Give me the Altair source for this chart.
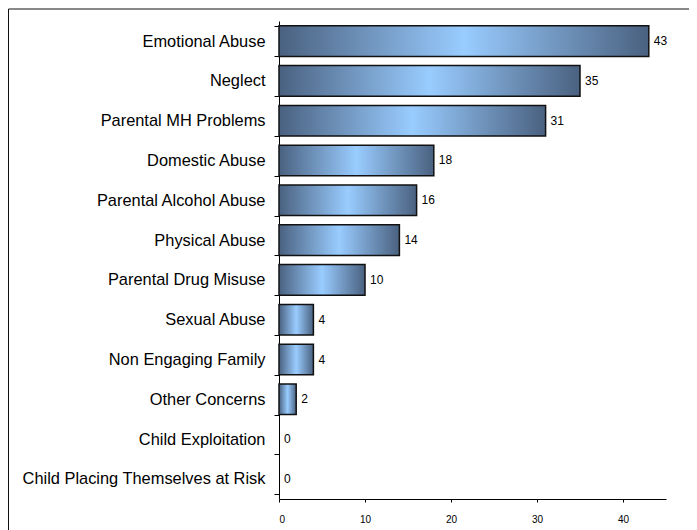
import altair as alt
import pandas as pd

categories = [
    "Emotional Abuse",
    "Neglect",
    "Parental MH Problems",
    "Domestic Abuse",
    "Parental Alcohol Abuse",
    "Physical Abuse",
    "Parental Drug Misuse",
    "Sexual Abuse",
    "Non Engaging Family",
    "Other Concerns",
    "Child Exploitation",
    "Child Placing Themselves at Risk",
]
values = [43, 35, 31, 18, 16, 14, 10, 4, 4, 2, 0, 0]
x_ticks = [0, 10, 20, 30, 40]

df = pd.DataFrame({"category": categories, "value": values})

FONT = "Liberation Sans"
DARK = "#4a6180"
LIGHT = "#99ccff"

grad = alt.LinearGradient(
    gradient="linear",
    stops=[
        alt.GradientStop(color=DARK, offset=0),
        alt.GradientStop(color=LIGHT, offset=0.5),
        alt.GradientStop(color=DARK, offset=1),
    ],
    x1=0, x2=1, y1=0, y2=0,
)

y_enc = alt.Y(
    "category:N",
    sort=categories,
    title=None,
    scale=alt.Scale(paddingInner=0.23, paddingOuter=0.12),
    axis=alt.Axis(
        domainColor="black",
        tickColor="black",
        tickSize=5,
        tickBand="extent",
        labelFont=FONT,
        labelFontSize=16.4,
        labelColor="#000000",
        labelPadding=9,
        labelLimit=400,
    ),
)
x_enc = alt.X(
    "value:Q",
    title=None,
    scale=alt.Scale(domain=[0, 45], nice=False),
    axis=alt.Axis(
        values=x_ticks,
        grid=False,
        domainColor="black",
        tickColor="black",
        tickSize=3,
        labelFont=FONT,
        labelFontSize=10,
        labelColor="#000000",
        labelPadding=12,
    ),
)

base = alt.Chart(df)
bars = base.mark_bar(fill=grad, stroke="#111111", strokeWidth=1.5).encode(
    x=x_enc,
    y=y_enc,
    strokeOpacity=alt.condition("datum.value > 0", alt.value(1), alt.value(0)),
)
labels = base.mark_text(
    align="left", baseline="middle", dx=5, font=FONT, fontSize=12, color="#000000"
).encode(x="value:Q", y=alt.Y("category:N", sort=categories), text="value:Q")

frame = alt.Chart(alt.Data(values=[{"f": 1}])).mark_rect(
    fill="transparent", stroke="#111111", strokeWidth=1
).encode(
    x=alt.value(-270.5), x2=alt.value(430), y=alt.value(-12), y2=alt.value(530)
)

chart = (
    alt.layer(frame, bars, labels)
    .properties(
        width=387,
        height=478,
        padding={"left": 271, "top": 13, "right": 23, "bottom": 31},
        autosize=alt.AutoSizeParams(type="none"),
        background="white",
    )
    .configure_view(stroke=None)
)

chart.save("out.html", embed_options={"renderer": "svg", "actions": False})
